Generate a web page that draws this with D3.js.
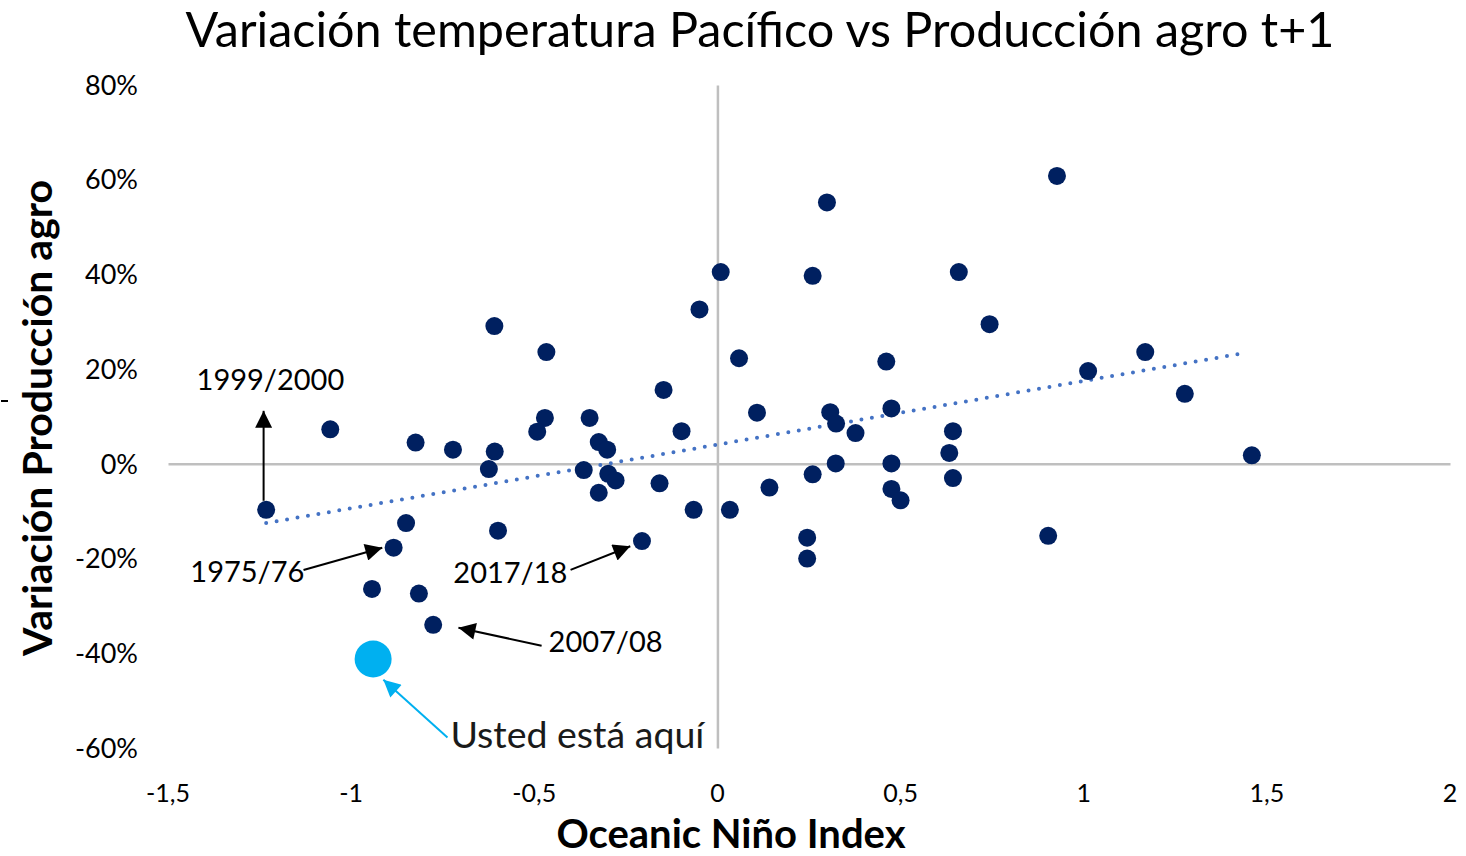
<!DOCTYPE html>
<html>
<head>
<meta charset="utf-8">
<script src="https://cdn.jsdelivr.net/npm/d3@7"></script>
<style>
  html, body { margin: 0; padding: 0; background: #ffffff; }
  svg { display: block; font-family: Lato, "Open Sans", sans-serif; }
</style>
</head>
<body>
<svg id="chart" width="1466" height="856"></svg>
<script>
// ---- Data ----
const oni = [-1.232, -1.057, -0.824, -0.722, -0.609, -0.467, -0.471, -0.492, -0.608, -0.624,
  -0.599, -0.850, -0.884, -0.943, -0.815, -0.776, -0.349, -0.324, -0.301, -0.365,
  -0.298, -0.278, -0.324, -0.147, -0.098, -0.158, -0.065, -0.049, 0.009, 0.059,
  0.034, 0.108, 0.142, 0.299, 0.260, 0.308, 0.324, 0.377, 0.323, 0.260,
  0.245, 0.245, 0.461, 0.475, 0.475, 0.475, 0.500, 0.643, 0.633, 0.643,
  0.659, 0.743, 0.927, 1.012, 1.168, 1.276, 0.903, 1.459, -0.206];
const produccion = [-9.7, 7.3, 4.5, 3.0, 29.1, 23.6, 9.7, 6.8, 2.6, -1.1,
  -14.1, -12.5, -17.7, -26.4, -27.4, -34.0, 9.7, 4.6, 3.0, -1.3,
  -2.1, -3.5, -6.1, 15.6, 6.9, -4.1, -9.7, 32.6, 40.5, 22.3,
  -9.7, 10.8, -5.0, 55.2, 39.7, 10.9, 8.5, 6.5, 0.1, -2.2,
  -15.6, -20.0, 21.6, 11.7, 0.1, -5.3, -7.7, 6.9, 2.3, -3.0,
  40.5, 29.5, 60.8, 19.6, 23.6, 14.8, -15.2, 1.8, -16.3];
const ustedOni = [-0.940];
const ustedProd = [-41.2];
const trendOni = [-1.232, 1.446];
const trendProd = [-12.5, 23.5];
const xTicks = [-1.5, -1, -0.5, 0, 0.5, 1, 1.5, 2];
const xTickLabels = ["-1,5", "-1", "-0,5", "0", "0,5", "1", "1,5", "2"];
const yTicks = [80, 60, 40, 20, 0, -20, -40, -60];
const yTickLabels = ["80%", "60%", "40%", "20%", "0%", "-20%", "-40%", "-60%"];
const annLabels = ["1999/2000", "1975/76", "2017/18", "2007/08", "Usted está aquí"];
const annTextX = [-1.422, -1.439, -0.721, -0.461, -0.729];
const annTextY = [15.6, -24.9, -25.1, -39.7, -59.9];
const annFromX = [-1.239, -1.130, -0.401, -0.480, -0.737];
const annFromY = [-7.8, -22.4, -22.4, -38.4, -57.8];
const annToX = [-1.239, -0.915, -0.238, -0.707, -0.912];
const annToY = [11.2, -17.7, -17.4, -34.6, -45.6];

const title = "Variación temperatura Pacífico vs Producción agro t+1";
const xTitle = "Oceanic Niño Index";
const yTitle = "Variación Producción agro";

// ---- Layout ----
const svg = d3.select("#chart");
const x = d3.scaleLinear().domain([-1.5, 2]).range([168, 1450]);
const y = d3.scaleLinear().domain([-60, 80]).range([748, 85]);

const navy = "#002060", cyan = "#00B0F0", grid = "#BFBFBF";

// Arrowhead markers
const defs = svg.append("defs");
[["arrBlack", "#000"], ["arrCyan", cyan]].forEach(([id, c]) => {
  defs.append("marker").attr("id", id)
    .attr("viewBox", "0 0 10 10").attr("refX", 10).attr("refY", 5)
    .attr("markerWidth", 20).attr("markerHeight", 17)
    .attr("markerUnits", "userSpaceOnUse").attr("orient", "auto")
    .append("path").attr("d", "M0,0 L10,5 L0,10 Z").attr("fill", c);
});

// Title
svg.append("text").attr("x", 760).attr("y", 47).attr("text-anchor", "middle")
  .attr("font-size", 48.5).attr("fill", "#000").text(title);

// Axis lines through zero (D3 axes with tick marks removed)
const xAxis = d3.axisBottom(x).tickValues([]).tickSizeOuter(0);
const yAxis = d3.axisLeft(y).tickValues([]).tickSizeOuter(0);
svg.append("g").attr("transform", `translate(0,${y(0)})`).call(xAxis)
  .select(".domain").attr("stroke", grid).attr("stroke-width", 2.5);
svg.append("g").attr("transform", `translate(${x(0)},0)`).call(yAxis)
  .select(".domain").attr("stroke", grid).attr("stroke-width", 2.5);

// Tick labels
svg.append("g").selectAll("text").data(xTicks).join("text")
  .attr("x", d => x(d)).attr("y", 802).attr("text-anchor", "middle")
  .attr("font-size", 25).attr("fill", "#000")
  .text((d, i) => xTickLabels[i]);
svg.append("g").selectAll("text").data(yTicks).join("text")
  .attr("x", 138).attr("y", d => y(d)).attr("dy", "0.36em").attr("text-anchor", "end")
  .attr("font-size", 27).attr("fill", "#000")
  .text((d, i) => yTickLabels[i]);

// Axis titles
svg.append("text").attr("x", 731).attr("y", 848).attr("text-anchor", "middle")
  .attr("font-size", 40).attr("font-weight", "bold").attr("fill", "#000").text(xTitle);
svg.append("text").attr("transform", "translate(52,418) rotate(-90)").attr("text-anchor", "middle")
  .attr("font-size", 41).attr("font-weight", "bold").attr("fill", "#000").text(yTitle);
svg.append("line").attr("x1", 1).attr("x2", 8).attr("y1", 401).attr("y2", 401)
  .attr("stroke", "#000").attr("stroke-width", 2);

// Trend line (dotted)
svg.append("path")
  .datum(trendOni.map((d, i) => [d, trendProd[i]]))
  .attr("d", d3.line().x(d => x(d[0])).y(d => y(d[1])))
  .attr("fill", "none").attr("stroke", "#4472C4").attr("stroke-width", 4)
  .attr("stroke-linecap", "round").attr("stroke-dasharray", "0,10.6");

// Scatter points
svg.append("g").selectAll("circle").data(oni.map((d, i) => [d, produccion[i]])).join("circle")
  .attr("cx", d => x(d[0])).attr("cy", d => y(d[1])).attr("r", 9).attr("fill", navy);

// "Usted está aquí" point
svg.append("g").selectAll("circle").data(ustedOni.map((d, i) => [d, ustedProd[i]])).join("circle")
  .attr("cx", d => x(d[0])).attr("cy", d => y(d[1])).attr("r", 18.5).attr("fill", cyan);

// Annotations
const ann = svg.append("g");
annLabels.forEach((lab, i) => {
  const isUsted = i === 4;
  ann.append("line")
    .attr("x1", x(annFromX[i])).attr("y1", y(annFromY[i]))
    .attr("x2", x(annToX[i])).attr("y2", y(annToY[i]))
    .attr("stroke", isUsted ? cyan : "#000").attr("stroke-width", 2)
    .attr("marker-end", `url(#${isUsted ? "arrCyan" : "arrBlack"})`);
  ann.append("text").attr("x", x(annTextX[i])).attr("y", y(annTextY[i]))
    .attr("font-size", isUsted ? 37.5 : 29).attr("fill", isUsted ? "#1a1a1a" : "#000").text(lab);
});
</script>
</body>
</html>
